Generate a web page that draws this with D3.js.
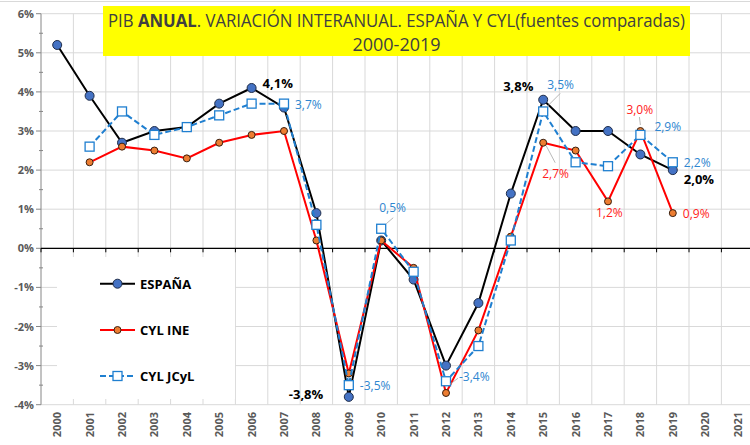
<!DOCTYPE html>
<html>
<head>
<meta charset="utf-8">
<script src="https://cdn.jsdelivr.net/npm/d3@7"></script>
<style>
  body { margin: 0; background: #fff; }
  svg { display: block; font-family: "Open Sans", "Noto Sans", sans-serif; }
</style>
</head>
<body>
<div id="chart"></div>
<script>
// years on the category axis
var years = [2000, 2001, 2002, 2003, 2004, 2005, 2006, 2007, 2008, 2009, 2010,
             2011, 2012, 2013, 2014, 2015, 2016, 2017, 2018, 2019, 2020, 2021];

// PIB % variation (null = no data)
var espana = [5.2, 3.9, 2.7, 3.0, 3.1, 3.7, 4.1, 3.6, 0.9, -3.8, 0.2,
              -0.8, -3.0, -1.4, 1.4, 3.8, 3.0, 3.0, 2.4, 2.0, null, null];
var cylIne = [null, 2.2, 2.6, 2.5, 2.3, 2.7, 2.9, 3.0, 0.2, -3.2, 0.2,
              -0.5, -3.7, -2.1, 0.3, 2.7, 2.5, 1.2, 3.0, 0.9, null, null];
var cylJcyl = [null, 2.6, 3.5, 2.9, 3.1, 3.4, 3.7, 3.7, 0.6, -3.5, 0.5,
               -0.6, -3.4, -2.5, 0.2, 3.5, 2.2, 2.1, 2.9, 2.2, null, null];

var yTicks = [-4, -3, -2, -1, 0, 1, 2, 3, 4, 5, 6];

var width = 750, height = 445;

var svg = d3.select("#chart").append("svg")
    .attr("width", width)
    .attr("height", height);

var x = d3.scaleBand().domain(years).range([41, 753.8]);
var bw = x.bandwidth();
function cx(yr) { return x(yr) + bw / 2; }

var y = d3.scaleLinear().domain([-4, 6]).range([404.7, 13.7]);

// top border
svg.append("line")
    .attr("x1", 0).attr("x2", width).attr("y1", 1.5).attr("y2", 1.5)
    .attr("stroke", "#d9d9d9");

// gridlines
var grid = svg.append("g");
grid.selectAll(".hg").data(yTicks).enter().append("line")
    .attr("x1", 41).attr("x2", 753.8)
    .attr("y1", function(d) { return y(d); })
    .attr("y2", function(d) { return y(d); })
    .attr("stroke", "#d9d9d9").attr("stroke-width", 1);
var bounds = years.map(function(d) { return x(d) + bw; });
grid.selectAll(".vg").data(bounds).enter().append("line")
    .attr("x1", function(d) { return d; })
    .attr("x2", function(d) { return d; })
    .attr("y1", y(6)).attr("y2", y(-4))
    .attr("stroke", "#d9d9d9").attr("stroke-width", 1);

// legend box covers grid
svg.append("rect")
    .attr("x", 57).attr("y", 257).attr("width", 178).attr("height", 142)
    .attr("fill", "#fff");

// y axis
var yAxis = svg.append("g");
yAxis.append("line")
    .attr("x1", 41).attr("x2", 41).attr("y1", y(6)).attr("y2", y(-4))
    .attr("stroke", "#868686");
yAxis.selectAll(".mj").data(yTicks).enter().append("line")
    .attr("x1", 36).attr("x2", 41)
    .attr("y1", function(d) { return y(d); })
    .attr("y2", function(d) { return y(d); })
    .attr("stroke", "#868686");
yAxis.selectAll(".mn").data(yTicks.slice(0, -1)).enter().append("line")
    .attr("x1", 39).attr("x2", 43)
    .attr("y1", function(d) { return y(d + 0.5); })
    .attr("y2", function(d) { return y(d + 0.5); })
    .attr("stroke", "#868686");
yAxis.selectAll("text").data(yTicks).enter().append("text")
    .attr("x", 34)
    .attr("y", function(d) { return y(d) + 4; })
    .attr("text-anchor", "end")
    .attr("font-size", 11).attr("font-weight", "bold")
    .attr("fill", "#595959")
    .text(function(d) { return d + "%"; });

// x axis at 0
var xAxis = svg.append("g");
xAxis.append("line")
    .attr("x1", 41).attr("x2", 753.8).attr("y1", y(0)).attr("y2", y(0))
    .attr("stroke", "#000").attr("stroke-width", 1.2);
xAxis.selectAll(".tk").data([x(2000)].concat(bounds)).enter().append("line")
    .attr("x1", function(d) { return d; })
    .attr("x2", function(d) { return d; })
    .attr("y1", y(0)).attr("y2", y(0) + 4)
    .attr("stroke", "#000");
xAxis.selectAll("text").data(years).enter().append("text")
    .attr("transform", function(d) { return "translate(" + (cx(d) + 4) + ",412) rotate(-90)"; })
    .attr("text-anchor", "end")
    .attr("font-size", 11).attr("font-weight", "bold")
    .attr("fill", "#595959")
    .text(function(d) { return d; });

// series, each drawn line then markers
function pts(arr) {
    return years.map(function(d, i) { return { yr: d, v: arr[i] }; })
        .filter(function(d) { return d.v !== null; });
}
var line = d3.line()
    .x(function(d) { return cx(d.yr); })
    .y(function(d) { return y(d.v); });

svg.append("path").datum(pts(espana)).attr("d", line)
    .attr("fill", "none").attr("stroke", "#000").attr("stroke-width", 2);
svg.append("g").selectAll("circle").data(pts(espana)).enter().append("circle")
    .attr("cx", function(d) { return cx(d.yr); })
    .attr("cy", function(d) { return y(d.v); })
    .attr("r", 4.5)
    .attr("fill", "#4472c4").attr("stroke", "#1f2d4a").attr("stroke-width", 1);

svg.append("path").datum(pts(cylIne)).attr("d", line)
    .attr("fill", "none").attr("stroke", "#ff0000").attr("stroke-width", 2);
svg.append("g").selectAll("circle").data(pts(cylIne)).enter().append("circle")
    .attr("cx", function(d) { return cx(d.yr); })
    .attr("cy", function(d) { return y(d.v); })
    .attr("r", 3.5)
    .attr("fill", "#ed7d31").attr("stroke", "#3a2010").attr("stroke-width", 1);

svg.append("path").datum(pts(cylJcyl)).attr("d", line)
    .attr("fill", "none").attr("stroke", "#1f7fd0").attr("stroke-width", 2)
    .attr("stroke-dasharray", "6,3");
svg.append("g").selectAll("rect").data(pts(cylJcyl)).enter().append("rect")
    .attr("x", function(d) { return cx(d.yr) - 4.5; })
    .attr("y", function(d) { return y(d.v) - 4.5; })
    .attr("width", 9).attr("height", 9)
    .attr("fill", "#fff").attr("stroke", "#1f7fd0").attr("stroke-width", 1.3);

// data labels: offsets from the point, optional leader line [x1,y1,x2,y2] offsets
var labelDefs = [
    { s: espana, yr: 2006, dx: 11, dy: 0, col: "#000", bold: true },
    { s: cylJcyl, yr: 2007, dx: 11, dy: 5, col: "#2e86d0" },
    { s: cylJcyl, yr: 2010, dx: -2, dy: -17, col: "#2e86d0", lead: [12, -11, 5, -5] },
    { s: espana, yr: 2009, dx: -60, dy: 2, col: "#000", bold: true },
    { s: cylJcyl, yr: 2009, dx: 11, dy: 5, col: "#2e86d0" },
    { s: cylJcyl, yr: 2012, dx: 13, dy: 0, col: "#2e86d0", lead: [12, -3, 4, 3] },
    { s: espana, yr: 2015, dx: -40, dy: -9, col: "#000", bold: true },
    { s: cylJcyl, yr: 2015, dx: 4, dy: -22, col: "#2e86d0", lead: [17, -18, 3, -4] },
    { s: cylIne, yr: 2015, dx: -1, dy: 35, col: "#ff2020", lead: [12, 20, 3, 3] },
    { s: cylIne, yr: 2018, dx: -14, dy: -17, col: "#ff2020", lead: [-1, -14, 0, -6] },
    { s: cylJcyl, yr: 2018, dx: 14, dy: -4, col: "#2e86d0" },
    { s: cylJcyl, yr: 2019, dx: 11, dy: 5, col: "#2e86d0" },
    { s: espana, yr: 2019, dx: 11, dy: 14, col: "#000", bold: true },
    { s: cylIne, yr: 2017, dx: -12, dy: 16, col: "#ff2020" },
    { s: cylIne, yr: 2019, dx: 10, dy: 5, col: "#ff2020" }
];
function fmt(v) { return v.toFixed(1).replace(".", ",") + "%"; }
var lab = svg.append("g");
labelDefs.forEach(function(d) {
    var i = years.indexOf(d.yr);
    var px = cx(d.yr), py = y(d.s[i]);
    if (d.lead) {
        lab.append("line")
            .attr("x1", px + d.lead[0]).attr("y1", py + d.lead[1])
            .attr("x2", px + d.lead[2]).attr("y2", py + d.lead[3])
            .attr("stroke", "#a6a6a6").attr("stroke-width", 0.8);
    }
    lab.append("text")
        .attr("x", px + d.dx).attr("y", py + d.dy)
        .attr("font-size", d.bold ? 13 : 12)
        .attr("font-weight", d.bold ? "bold" : "normal")
        .attr("fill", d.col)
        .text(fmt(d.s[i]));
});

// legend
var legend = [
    { name: "ESPAÑA", y: 283.7, col: "#000", mk: "big" },
    { name: "CYL INE", y: 330, col: "#ff0000", mk: "small" },
    { name: "CYL JCyL", y: 376, col: "#1f7fd0", mk: "sq" }
];
legend.forEach(function(d) {
    var g = svg.append("g");
    g.append("line").attr("x1", 100).attr("x2", 135).attr("y1", d.y).attr("y2", d.y)
        .attr("stroke", d.col).attr("stroke-width", 2)
        .attr("stroke-dasharray", d.mk === "sq" ? "6,3" : null);
    if (d.mk === "big") g.append("circle").attr("cx", 117.5).attr("cy", d.y).attr("r", 4.5)
        .attr("fill", "#4472c4").attr("stroke", "#1f2d4a");
    if (d.mk === "small") g.append("circle").attr("cx", 117.5).attr("cy", d.y).attr("r", 3.5)
        .attr("fill", "#ed7d31").attr("stroke", "#3a2010");
    if (d.mk === "sq") g.append("rect").attr("x", 113).attr("y", d.y - 4.5).attr("width", 9).attr("height", 9)
        .attr("fill", "#fff").attr("stroke", "#1f7fd0").attr("stroke-width", 1.3);
    g.append("text").attr("x", 140).attr("y", d.y + 5)
        .attr("font-size", 13).attr("font-weight", "bold").attr("fill", "#000")
        .text(d.name);
});

// title
svg.append("rect")
    .attr("x", 103).attr("y", 6).attr("width", 587).attr("height", 50)
    .attr("fill", "#ffff00");
var t1 = svg.append("text")
    .attr("x", 396.5).attr("y", 26.5)
    .attr("text-anchor", "middle")
    .attr("font-size", 18).attr("fill", "#404040")
    .attr("textLength", 577).attr("lengthAdjust", "spacingAndGlyphs");
t1.append("tspan").text("PIB ");
t1.append("tspan").attr("font-weight", "bold").text("ANUAL");
t1.append("tspan").text(". VARIACIÓN INTERANUAL. ESPAÑA Y CYL(fuentes comparadas)");
svg.append("text")
    .attr("x", 396.5).attr("y", 51)
    .attr("text-anchor", "middle")
    .attr("font-size", 18).attr("fill", "#404040")
    .text("2000-2019");
</script>
</body>
</html>
